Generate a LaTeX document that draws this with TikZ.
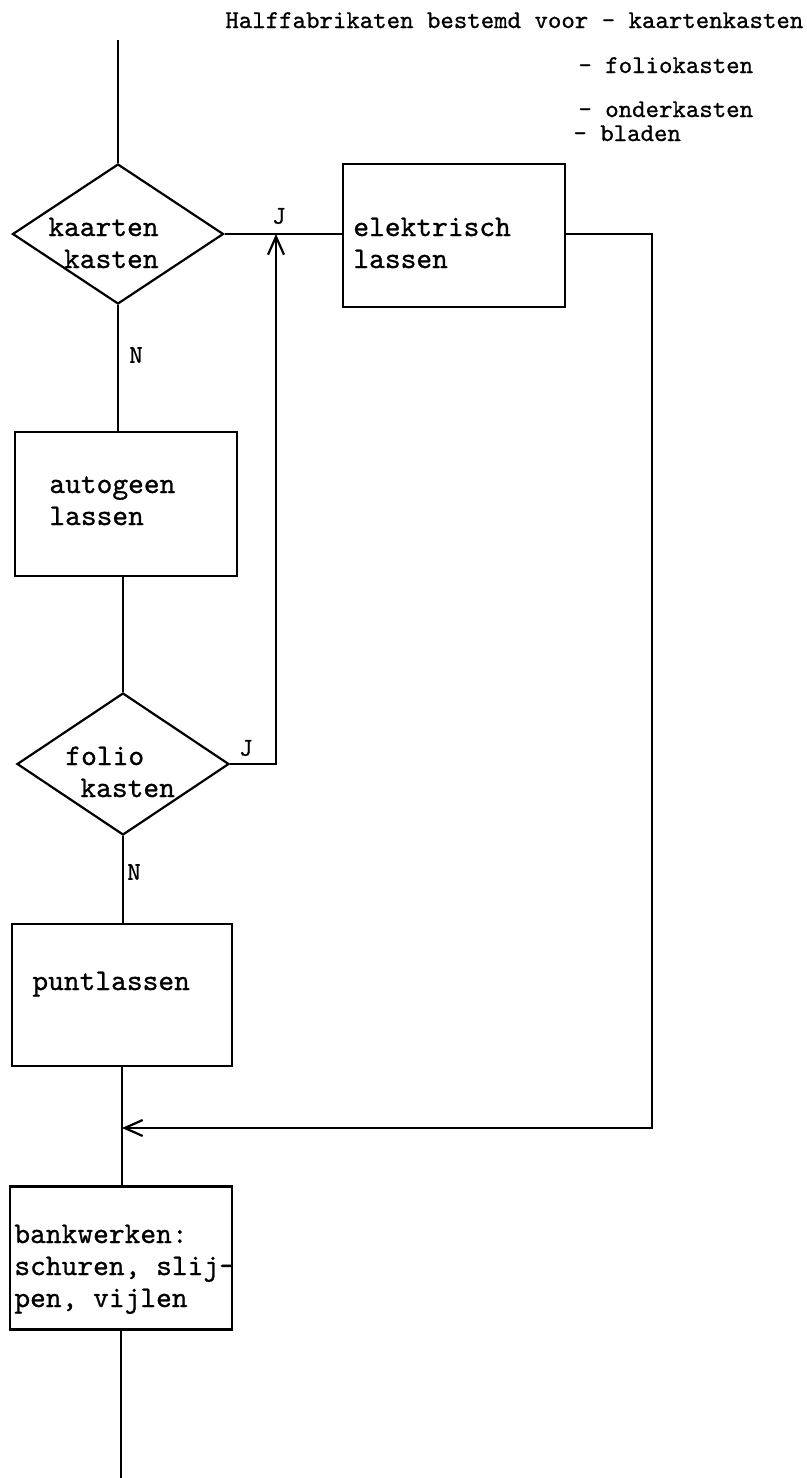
\documentclass[tikz,border=0pt]{standalone}
\usepackage{fontspec}
\setmonofont{lmmono10-regular}[Extension=.otf, FakeBold=0.8]
\usetikzlibrary{arrows.meta,positioning,shapes.geometric,calc}
\tikzset{
  box/.style={draw, line width=1.1pt, minimum width=111pt, minimum height=71.5pt, inner sep=0pt},
  keuze/.style={draw, line width=1.1pt, diamond, inner sep=0pt, aspect=1.5},
  tekst/.style={font=\ttfamily\fontsize{15}{16}\selectfont, inner sep=0pt},
  kop/.style={font=\ttfamily\fontsize{12.8}{14}\selectfont, inner sep=0pt, anchor=base west},
  lijn/.style={line width=1.1pt},
  pijl/.style={line width=1.1pt, -{Straight Barb[length=9pt, width=8pt]}},
}

\begin{document}
\begin{tikzpicture}[x=0.5pt, y=-0.5pt]
        \useasboundingbox (0,0) rectangle (807,1478);

        % kop
        \node[kop] (kop1) at (225,28)  {Halffabrikaten bestemd voor - kaartenkasten};
        \node[kop] (kop2) at (578,73)  {- foliokasten};
        \node[kop] (kop3) at (578,117) {- onderkasten};
        \node[kop] (kop4) at (573,141) {- bladen};

        % keuzes en bewerkingen
        \coordinate (begin) at (118,40);
        \node[keuze, minimum width=105.5pt, minimum height=70pt] (kaart) at (118,234) {};
        \node[box] (elek)  at (454,235.5) {};
        \node[box, minimum height=72pt] (auto)  at (126,504) {};
        \node[keuze, minimum width=106pt, minimum height=71pt] (folio) at (123,764) {};
        \node[box, minimum width=110pt, minimum height=71pt] (punt)  at (122,995) {};
        \node[box] (bank)  at (121,1258) {};
        \coordinate (einde) at (121,1478);

        % teksten (base = laatste regel)
        \node[tekst, anchor=base east, align=right] (kaarttxt) at (159,268) {kaarten\\kasten};
        \node[tekst, anchor=base west, align=left]  (foliotxt) at (65,797)  {folio\\\hspace*{7.5pt}kasten};
        \node[tekst, anchor=base west, align=left]  (elektxt)  at (353,268) {elektrisch\\lassen};
        \node[tekst, anchor=base west, align=left]  (autotxt)  at (49,525)  {autogeen\\lassen};
        \node[tekst, anchor=base west]              (punttxt)  at (32,990)  {puntlassen};
        \node[tekst, anchor=base west, align=left]  (banktxt)  at (14,1307) {bankwerken:\\schuren, slij-\\pen, vijlen};

        % J / N
        \node[kop, anchor=center] (j1) at (279,216) {J};
        \node[kop, anchor=center] (n1) at (136,355) {N};
        \node[kop, anchor=center] (j2) at (246,748) {J};
        \node[kop, anchor=center] (n2) at (134,872) {N};

        % verbindingen
        \draw[lijn] (begin) -- (kaart.north);
        \draw[lijn] (kaart.east) -- (kaart.east -| elek.west);
        \draw[lijn] (kaart.south) -- (kaart.south |- auto.north);
        \draw[lijn] (auto.south -| folio.north) -- (folio.north);
        \draw[lijn] (folio.south) -- (folio.south |- punt.north);
        \draw[lijn] (punt.south) -- (punt.south |- bank.north);
        \draw[lijn] (bank.south) -- (einde);

        \coordinate (jpunt) at (276,234);
        \coordinate (samen) at (122,1128);
        \draw[pijl] (folio.east) -| (jpunt);
        \draw[pijl] (elek.east |- kaart.east) -- (652,234) |- (samen);
\end{tikzpicture}
\end{document}
